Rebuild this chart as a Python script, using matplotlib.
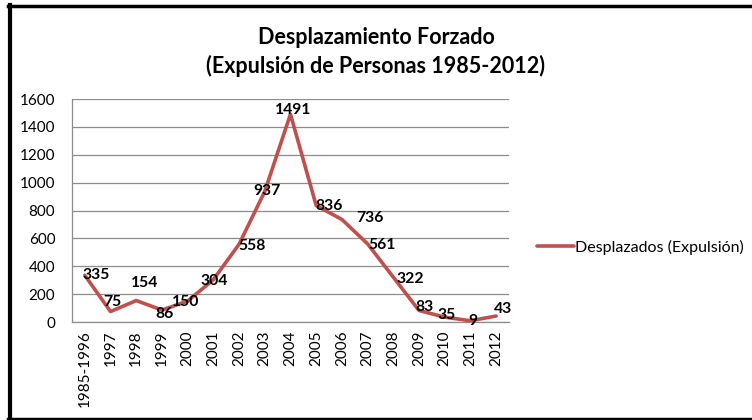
import matplotlib
matplotlib.use("Agg")
import matplotlib.pyplot as plt
from matplotlib.lines import Line2D

plt.rcParams['font.family'] = ['Lato', 'DejaVu Sans']

# datos
categorias = ['1985-1996', '1997', '1998', '1999', '2000', '2001', '2002', '2003',
              '2004', '2005', '2006', '2007', '2008', '2009', '2010', '2011', '2012']
desplazados = [335, 75, 154, 86, 150, 304, 558, 937, 1491, 836, 736, 561, 322, 83, 35, 9, 43]
y_ticks = [0, 200, 400, 600, 800, 1000, 1200, 1400, 1600]

# desplazamiento de las etiquetas (pixeles, x derecha / y arriba)
offsets = [(11, 0), (2, 10), (8, 18), (3, -4), (-2, -1), (1, -1), (13, -2), (2, 0),
           (3, 4), (13, 0), (28, 1), (14, -1), (17, -2), (6, 3), (2, 2), (2, 0), (7, 7)]

rojo = '#C0504D'

fig = plt.figure(figsize=(7.52, 4.2), dpi=100)
ax = fig.add_axes([0.0957, 0.2333, 0.5811, 0.5309])

x = list(range(len(categorias)))
ax.plot(x, desplazados, color=rojo, lw=2.6, solid_joinstyle='round',
        solid_capstyle='round', label='Desplazados (Expulsión)', zorder=3)

for xi, v, (dx, dy) in zip(x, desplazados, offsets):
    ax.annotate(str(v), (xi, v), xytext=(dx, dy), textcoords='offset pixels',
                ha='center', va='center', fontsize=11.3, fontweight='bold',
                color='black', zorder=4)

ax.set_xlim(-0.5, len(categorias) - 0.5)
ax.set_ylim(0, 1600)
ax.set_yticks(y_ticks)
ax.set_xticks(x)
ax.set_xticklabels(categorias, rotation=90, fontsize=11)
ax.tick_params(axis='y', labelsize=11, length=0, pad=12)
ax.tick_params(axis='x', length=0, pad=6)
ax.grid(axis='y', color='#8c8c8c', lw=0.9)
ax.set_axisbelow(True)
for s in ['top', 'right']:
    ax.spines[s].set_visible(False)
for s in ['left', 'bottom']:
    ax.spines[s].set_color('#8c8c8c')
    ax.spines[s].set_linewidth(0.9)

fig.text(0.5, 1 - 37 / 420, 'Desplazamiento Forzado', ha='center', va='center',
         fontsize=15.5, fontweight='bold')
fig.text(0.5, 1 - 66 / 420, '(Expulsión de Personas 1985-2012)', ha='center', va='center',
         fontsize=15.5, fontweight='bold')

leg = fig.legend(loc='center left', bbox_to_anchor=(0.695, 1 - 247 / 420), frameon=False,
                 fontsize=11.5, handlelength=2.3, handletextpad=0.1)

# marco
fig.add_artist(Line2D([10 / 752, 10 / 752], [3 / 420, 1 - 5 / 420], color='black', lw=3,
                      transform=fig.transFigure))
fig.add_artist(Line2D([8 / 752, 1], [1 - 5.5 / 420, 1 - 5.5 / 420], color='black', lw=2.5,
                      transform=fig.transFigure))
fig.add_artist(Line2D([8 / 752, 1], [1.5 / 420, 1.5 / 420], color='black', lw=2.5,
                      transform=fig.transFigure))

fig.savefig('out.png', dpi=100)
